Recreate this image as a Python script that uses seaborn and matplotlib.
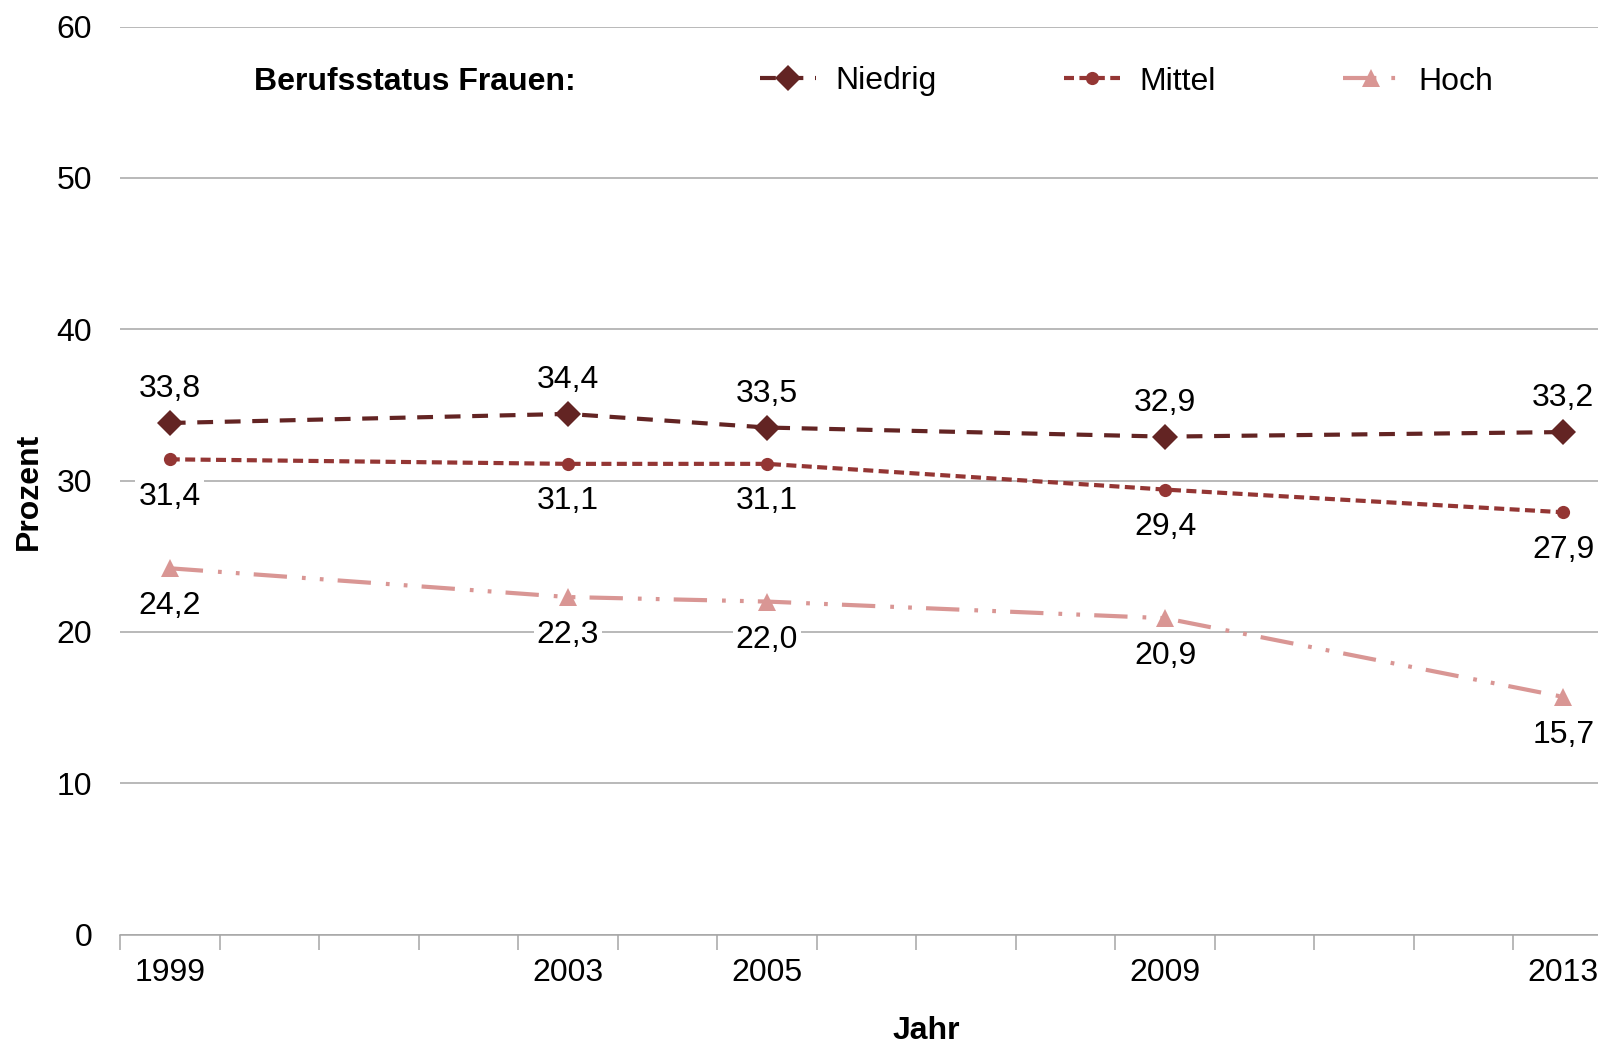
import matplotlib
matplotlib.use("Agg")
import matplotlib.pyplot as plt
from matplotlib.lines import Line2D
import seaborn as sns
import pandas as pd

# Anteile nach Berufsstatus (Frauen), in Prozent
years = [1999, 2003, 2005, 2009, 2013]
niedrig = [33.8, 34.4, 33.5, 32.9, 33.2]
mittel = [31.4, 31.1, 31.1, 29.4, 27.9]
hoch = [24.2, 22.3, 22.0, 20.9, 15.7]
series_names = ["Niedrig", "Mittel", "Hoch"]
y_ticks = [0, 10, 20, 30, 40, 50, 60]

df = pd.DataFrame({
    "Jahr": years * 3,
    "Prozent": niedrig + mittel + hoch,
    "Status": [n for n in series_names for _ in years],
})

sns.set_theme(style="white")
plt.rcParams["font.family"] = ["Liberation Sans", "DejaVu Sans"]
plt.rcParams["text.color"] = "black"
plt.rcParams["xtick.color"] = "black"
plt.rcParams["ytick.color"] = "black"

colors = {"Niedrig": "#632423", "Mittel": "#943634", "Hoch": "#D99694"}
dashes = {"Niedrig": (3.8, 2.8), "Mittel": (2.4, 1.3), "Hoch": (8, 3.6, 0.9, 3.4, 0.9, 3.4)}
markers = {"Niedrig": "D", "Mittel": "o", "Hoch": "^"}
msizes = {"Niedrig": 13.5, "Mittel": 9.5, "Hoch": 13}
label_offset = {"Niedrig": 24.5, "Mittel": -27, "Hoch": -27.5}

FS = 23
LW = 3
GRID = "#A6A6A6"

fig = plt.figure(figsize=(15.98, 10.47), dpi=100)
ax = fig.add_axes([120 / 1598, 112.5 / 1047, 1493 / 1598, 908 / 1047])

sns.lineplot(data=df, x="Jahr", y="Prozent", hue="Status", style="Status",
             palette=colors, dashes=dashes, markers=markers,
             linewidth=LW, markeredgewidth=0, legend=False, ax=ax, zorder=3)

# marker sizes per series
for line, name in zip(ax.get_lines(), series_names):
    line.set_markersize(msizes[name])

ax.set_xlim(1998.5, 2013.5)
ax.set_ylim(0, 60)
ax.set_yticks(y_ticks)
ax.yaxis.grid(True, color=GRID, linewidth=1.1)
ax.set_axisbelow(True)

# tick marks at category boundaries, labels at survey years
ax.set_xticks([y + 0.5 for y in range(1998, 2014)])
ax.set_xticklabels([])
ax.set_xticks(years, minor=True)
ax.set_xticklabels([str(y) for y in years], minor=True, fontsize=FS)
ax.tick_params(axis="x", which="major", length=11, width=1.1, color=GRID, direction="out", bottom=True)
ax.tick_params(axis="x", which="minor", length=0, pad=17, labelcolor="black")
ax.tick_params(axis="y", length=0, pad=20, labelsize=FS, labelcolor="black")

for s in ["top", "right", "left"]:
    ax.spines[s].set_visible(False)
ax.spines["bottom"].set_color(GRID)
ax.spines["bottom"].set_linewidth(1.1)
ax.set_xlabel("")
ax.set_ylabel("")

# value labels
for name, vals in zip(series_names, [niedrig, mittel, hoch]):
    for x, v in zip(years, vals):
        ax.annotate(f"{v:.1f}".replace(".", ","), (x, v),
                    xytext=(0, label_offset[name]), textcoords="offset points",
                    ha="center", va="center", fontsize=FS, color="black", zorder=5,
                    bbox=dict(boxstyle="square,pad=0.1", fc="white", ec="none"),
                    annotation_clip=False)

fig.text(28.5 / 1598, 1 - 491 / 1047, "Prozent", rotation=90, ha="center", va="center",
         fontsize=FS, fontweight="bold", color="black")
fig.text(926 / 1598, 1 - 1031 / 1047, "Jahr", ha="center", va="center",
         fontsize=FS, fontweight="bold", color="black")

# legend
fig.text(254 / 1598, 1 - 81.5 / 1047, "Berufsstatus Frauen:", ha="left", va="center",
         fontsize=FS, fontweight="bold", color="black")
handles = [Line2D([], [], color=colors[n], linestyle=(0, dashes[n]), linewidth=LW,
                  marker=markers[n], markersize=msizes[n], markeredgewidth=0)
           for n in series_names]
fig.legend(handles, series_names, loc="center left",
           bbox_to_anchor=(760 / 1598, 1 - 81.5 / 1047), ncol=3, frameon=False,
           fontsize=FS, handlelength=1.75, handletextpad=0.6, columnspacing=4.0,
           borderpad=0, borderaxespad=0, labelcolor="black")

fig.savefig("out.png", dpi=100, facecolor="white")
